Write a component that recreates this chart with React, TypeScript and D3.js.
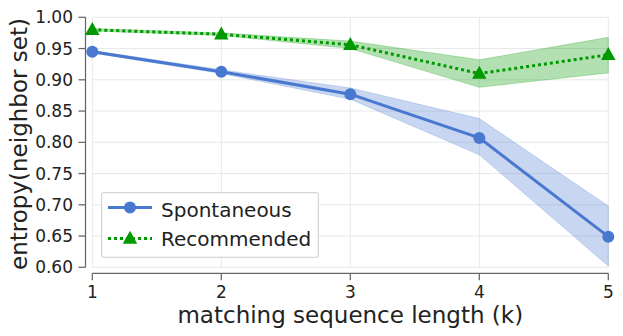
import React from "react";
import * as d3 from "d3";

const ks = [1, 2, 3, 4, 5];
const spontMean = [0.945, 0.913, 0.877, 0.807, 0.649];
const spontLow = [0.943, 0.910, 0.869, 0.780, 0.602];
const spontHigh = [0.947, 0.916, 0.887, 0.838, 0.698];
const recMean = [0.980, 0.973, 0.956, 0.910, 0.940];
const recLow = [0.978, 0.971, 0.950, 0.888, 0.911];
const recHigh = [0.982, 0.975, 0.962, 0.932, 0.968];
const yTicks = [0.6, 0.65, 0.7, 0.75, 0.8, 0.85, 0.9, 0.95, 1.0];
const xTicks = [1, 2, 3, 4, 5];
const seriesNames = ["Spontaneous", "Recommended"];

const W = 623, H = 336;
const BLUE = "#4878d0";
const GREEN = "#009900";
const FONT = "DejaVu Sans, sans-serif";

export default function App() {
  const x = d3.scaleLinear().domain([1, 5]).range([92.3, 608.3]);
  const y = d3.scaleLinear().domain([0.6, 1.0]).range([267.3, 17.3]);
  const spineX = 85.5;
  const spineY = 273.3;

  const line = d3.line<number>().x((_, i) => x(ks[i])).y((d) => y(d));
  const area = (lo: number[], hi: number[]) =>
    d3.area<number>().x((_, i) => x(ks[i])).y0((_, i) => y(lo[i])).y1((_, i) => y(hi[i]))(ks);

  const tri = (cx: number, cy: number, s: number) =>
    `M${cx},${cy - s * 0.62} L${cx + s * 0.58},${cy + s * 0.42} L${cx - s * 0.58},${cy + s * 0.42} Z`;

  return (
    <svg width={W} height={H} style={{ position: "absolute", left: 0, top: 0 }} fontFamily={FONT}>
      <rect width={W} height={H} fill="white" />
      {/* grid */}
      {yTicks.map((t) => (
        <line key={"gy" + t} x1={x(1)} x2={x(5)} y1={y(t)} y2={y(t)} stroke="#e8e8e8" strokeWidth={1} />
      ))}
      {xTicks.map((t) => (
        <line key={"gx" + t} x1={x(t)} x2={x(t)} y1={y(0.6)} y2={y(1.0)} stroke="#e8e8e8" strokeWidth={1} />
      ))}
      {/* bands */}
      <path d={area(spontLow, spontHigh) || ""} fill={BLUE} fillOpacity={0.3} stroke={BLUE} strokeOpacity={0.3} strokeWidth={0.8} />
      <path d={area(recLow, recHigh) || ""} fill={GREEN} fillOpacity={0.3} stroke={GREEN} strokeOpacity={0.3} strokeWidth={0.8} />
      {/* lines */}
      <path d={line(spontMean) || ""} fill="none" stroke={BLUE} strokeWidth={3} />
      {spontMean.map((v, i) => (
        <circle key={"sc" + i} cx={x(ks[i])} cy={y(v)} r={6} fill={BLUE} />
      ))}
      <path d={line(recMean) || ""} fill="none" stroke={GREEN} strokeWidth={3} strokeDasharray="3,3" />
      {recMean.map((v, i) => (
        <path key={"rt" + i} d={tri(x(ks[i]), y(v), 12.5)} fill={GREEN} />
      ))}
      {/* spines */}
      <line x1={spineX} x2={spineX} y1={y(1.0)} y2={y(0.6)} stroke="#666" strokeWidth={1.25} />
      <line x1={x(1)} x2={x(5)} y1={spineY} y2={spineY} stroke="#666" strokeWidth={1.25} />
      {yTicks.map((t) => (
        <g key={"yt" + t}>
          <line x1={spineX - 7} x2={spineX} y1={y(t)} y2={y(t)} stroke="#666" strokeWidth={1.25} />
          <text x={73} y={y(t)} dy="0.36em" textAnchor="end" fontSize={17} fill="#222">
            {t.toFixed(2)}
          </text>
        </g>
      ))}
      {xTicks.map((t) => (
        <g key={"xt" + t}>
          <line x1={x(t)} x2={x(t)} y1={spineY} y2={spineY + 7} stroke="#666" strokeWidth={1.25} />
          <text x={x(t)} y={298} textAnchor="middle" fontSize={17} fill="#222">
            {t}
          </text>
        </g>
      ))}
      <text x={(x(1) + x(5)) / 2} y={322.5} textAnchor="middle" fontSize={23} fill="#222">
        matching sequence length (k)
      </text>
      <text transform={`translate(26.5,144) rotate(-90)`} textAnchor="middle" fontSize={23} fill="#222">
        entropy(neighbor set)
      </text>
      {/* legend */}
      <rect x={101.7} y={192.7} width={216.6} height={64.6} fill="white" fillOpacity={0.85} stroke="#cccccc" strokeWidth={1} rx={1.5} />
      <line x1={108} x2={152} y1={207.5} y2={207.5} stroke={BLUE} strokeWidth={3} />
      <circle cx={130} cy={207.5} r={6} fill={BLUE} />
      <text x={161} y={216.5} fontSize={20} fill="#222">{seriesNames[0]}</text>
      <line x1={108} x2={152} y1={238.5} y2={238.5} stroke={GREEN} strokeWidth={3} strokeDasharray="3,3" />
      <path d={tri(130, 238.5, 12.5)} fill={GREEN} />
      <text x={161} y={246} fontSize={20} fill="#222">{seriesNames[1]}</text>
    </svg>
  );
}
